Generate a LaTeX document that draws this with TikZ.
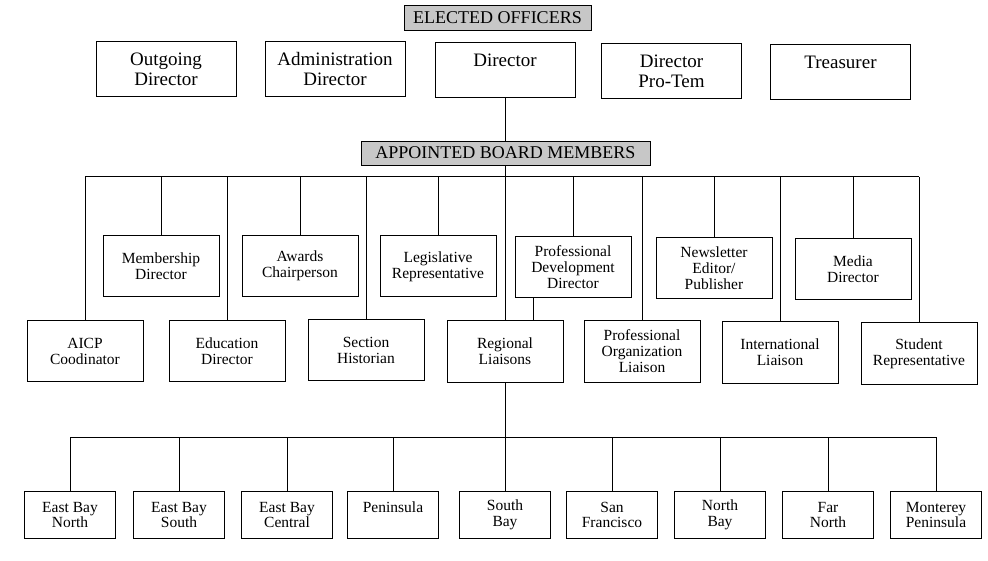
\documentclass[tikz,border=0pt]{standalone}
\usepackage{fontspec}
\setmainfont{Liberation Serif}
\begin{document}
\begin{tikzpicture}[x=1pt,y=-1pt,
  conn/.style={line width=1pt},
  topbox/.style={draw,line width=1pt,inner sep=0pt,minimum width=140pt,minimum height=55pt,align=center,font=\fontsize{19}{20}\selectfont},
  midbox/.style={draw,line width=1pt,inner sep=0pt,minimum width=116pt,minimum height=61pt,align=center,font=\fontsize{15.5}{16}\selectfont},
  regbox/.style={draw,line width=1pt,inner sep=0pt,minimum width=91pt,minimum height=47pt,align=center,font=\fontsize{15.5}{15.5}\selectfont},
  banner/.style={draw,line width=0.8pt,fill=black!22,inner sep=0pt,font=\fontsize{18}{18}\selectfont}]
\useasboundingbox (0,0) rectangle (988,561);

% elected officers
\node[banner,minimum width=187pt,minimum height=25pt] (EO) at (497.5,17.5) {ELECTED OFFICERS};
\node[topbox] (OD) at (166,69.5) {Outgoing\\Director};
\node[topbox] (AD) at (335,69.5) {Administration\\Director};
\node[topbox] (DR) at (505,70) {Director\\\phantom{x}};
\node[topbox] (PT) at (671.5,71) {Director\\Pro-Tem};
\node[topbox] (TR) at (840.5,72) {Treasurer\\\phantom{x}};

% upper row
\node[midbox] (MD) at (161,266.5) {Membership\\Director};
\node[midbox] (AC) at (300,266) {Awards\\Chairperson};
\node[midbox] (LR) at (438,266.5) {Legislative\\Representative};
\node[midbox] (PD) at (573,267) {Professional\\Development\\Director};
\node[midbox] (NE) at (714,268) {Newsletter\\Editor/\\Publisher};
\node[midbox] (ME) at (853,269) {Media\\Director};

% lower row
\node[midbox] (AI) at (85,351) {AICP\\Coodinator};
\node[midbox] (ED) at (227,351) {Education\\Director};
\node[midbox] (SH) at (366,350) {Section\\Historian};
\node[midbox] (RL) at (505,351.5) {Regional\\Liaisons};
\node[midbox] (PO) at (642,351.5) {Professional\\Organization\\Liaison};
\node[midbox] (IL) at (780,352.5) {International\\Liaison};
\node[midbox] (SR) at (919,353.5) {Student\\Representative};

% regions
\node[regbox] (R1) at (70,515) {East Bay\\North};
\node[regbox] (R2) at (179,515) {East Bay\\South};
\node[regbox] (R3) at (287,515) {East Bay\\Central};
\node[regbox] (R4) at (393,515) {Peninsula\\\phantom{x}};
\node[regbox] (R5) at (505,515) {South\\Bay};
\node[regbox] (R6) at (612,515) {San\\Francisco};
\node[regbox] (R7) at (720,515) {North\\Bay};
\node[regbox] (R8) at (828,515) {Far\\North};
\node[regbox] (R9) at (936,515) {Monterey\\Peninsula};

% buses
\coordinate (busA) at (505,177);
\coordinate (busB) at (505,437);

% central line (behind banner)
\draw[conn] (DR.south) -- (RL.north);
\node[banner,minimum width=289pt,minimum height=24pt] (AB) at (505.5,153) {APPOINTED BOARD MEMBERS};

\draw[conn] (busA -| AI.north) -- (busA -| SR.north);
\foreach \n in {MD,AC,LR,PD,NE,ME,AI,ED,SH,PO,IL,SR}
  \draw[conn] (busA -| \n.north) -- (\n.north);
\draw[conn] ([xshift=19pt]PD.south west) -- ([xshift=19pt]PD.south west |- RL.north);

\draw[conn] (RL.south) -- (R5.north);
\draw[conn] (busB -| R1.north) -- (busB -| R9.north);
\foreach \n in {R1,R2,R3,R4,R6,R7,R8,R9}
  \draw[conn] (busB -| \n.north) -- (\n.north);
\end{tikzpicture}
\end{document}
